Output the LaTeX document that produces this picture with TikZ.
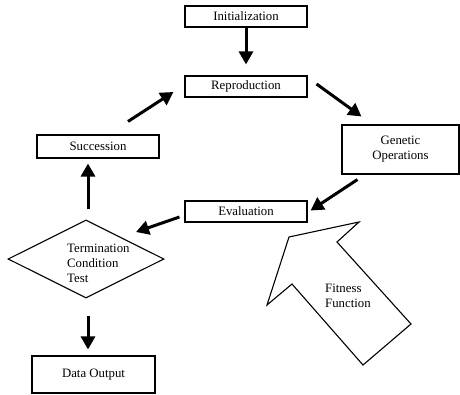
\documentclass[tikz,border=0pt]{standalone}
\usepackage{fontspec}
\setmainfont{Liberation Serif}
\usetikzlibrary{shapes.geometric, arrows.meta, calc}

\tikzset{
  stage/.style={draw, line width=1.1pt, inner sep=0pt, font=\fontsize{12.8}{15}\selectfont},
  flow/.style={line width=3pt, -{Triangle[length=13pt, width=14pt]}},
}

\begin{document}
\begin{tikzpicture}[x=1pt, y=-1pt]
    \useasboundingbox (0,0) rectangle (460,394);
    \node[stage, minimum width=122pt, minimum height=21pt] (init) at (246,16.5) {Initialization};
    \node[stage, minimum width=122pt, minimum height=21pt] (repro) at (246,86.5) {Reproduction};
    \node[stage, minimum width=117pt, minimum height=49pt, align=center] (genop) at (400.5,149.5) {Genetic\\Operations};
    \node[stage, minimum width=122pt, minimum height=23pt] (succ) at (98,146.5) {Succession};
    \node[stage, minimum width=122pt, minimum height=21pt] (eval) at (246,211.5) {Evaluation};
    \node[draw, line width=1.1pt, diamond, minimum width=156pt, minimum height=78pt, inner sep=0pt] (term) at (86,259) {};
    \node[font=\fontsize{12.8}{15}\selectfont, align=left, anchor=west, inner sep=0pt] (termtxt) at (67,263) {Termination\\Condition\\Test};
    \node[stage, minimum width=123pt, minimum height=37pt] (data) at (93.5,374.5) {Data Output};
    % fitness function block arrow
    \draw[line width=1.1pt, line join=miter] (359,222) -- (289,237) -- (267,305) -- (292,284)
        -- (363,365) -- (411,324) -- (337,242) -- cycle;
    \node[font=\fontsize{12.8}{15}\selectfont, align=left, anchor=west, inner sep=0pt] (fit) at (325,295.5) {Fitness\\Function};
    % flow
    \draw[flow, shorten >=11pt] (init.south) -- (repro.north);
    \draw[flow] ($(repro.east)+(9,-2.5)$) -- ($(genop.north west)+(20,-8)$);
    \draw[flow] ($(genop.south west)+(16,5)$) -- ($(eval.east)+(3,-1)$);
    \draw[flow] ($(eval.west)+(-5,5.5)$) -- ($(term.center)+(50,-27)$);
    \draw[flow] ($(term.north)+(2,-10)$) -- ($(succ.south)+(-10,5)$);
    \draw[flow] ($(succ.north)+(30,-13)$) -- ($(repro.west)+(-11,5.5)$);
    \draw[flow] ($(term.south)+(2,17)$) -- ($(data.north)+(-5.5,-6)$);
\end{tikzpicture}
\end{document}
